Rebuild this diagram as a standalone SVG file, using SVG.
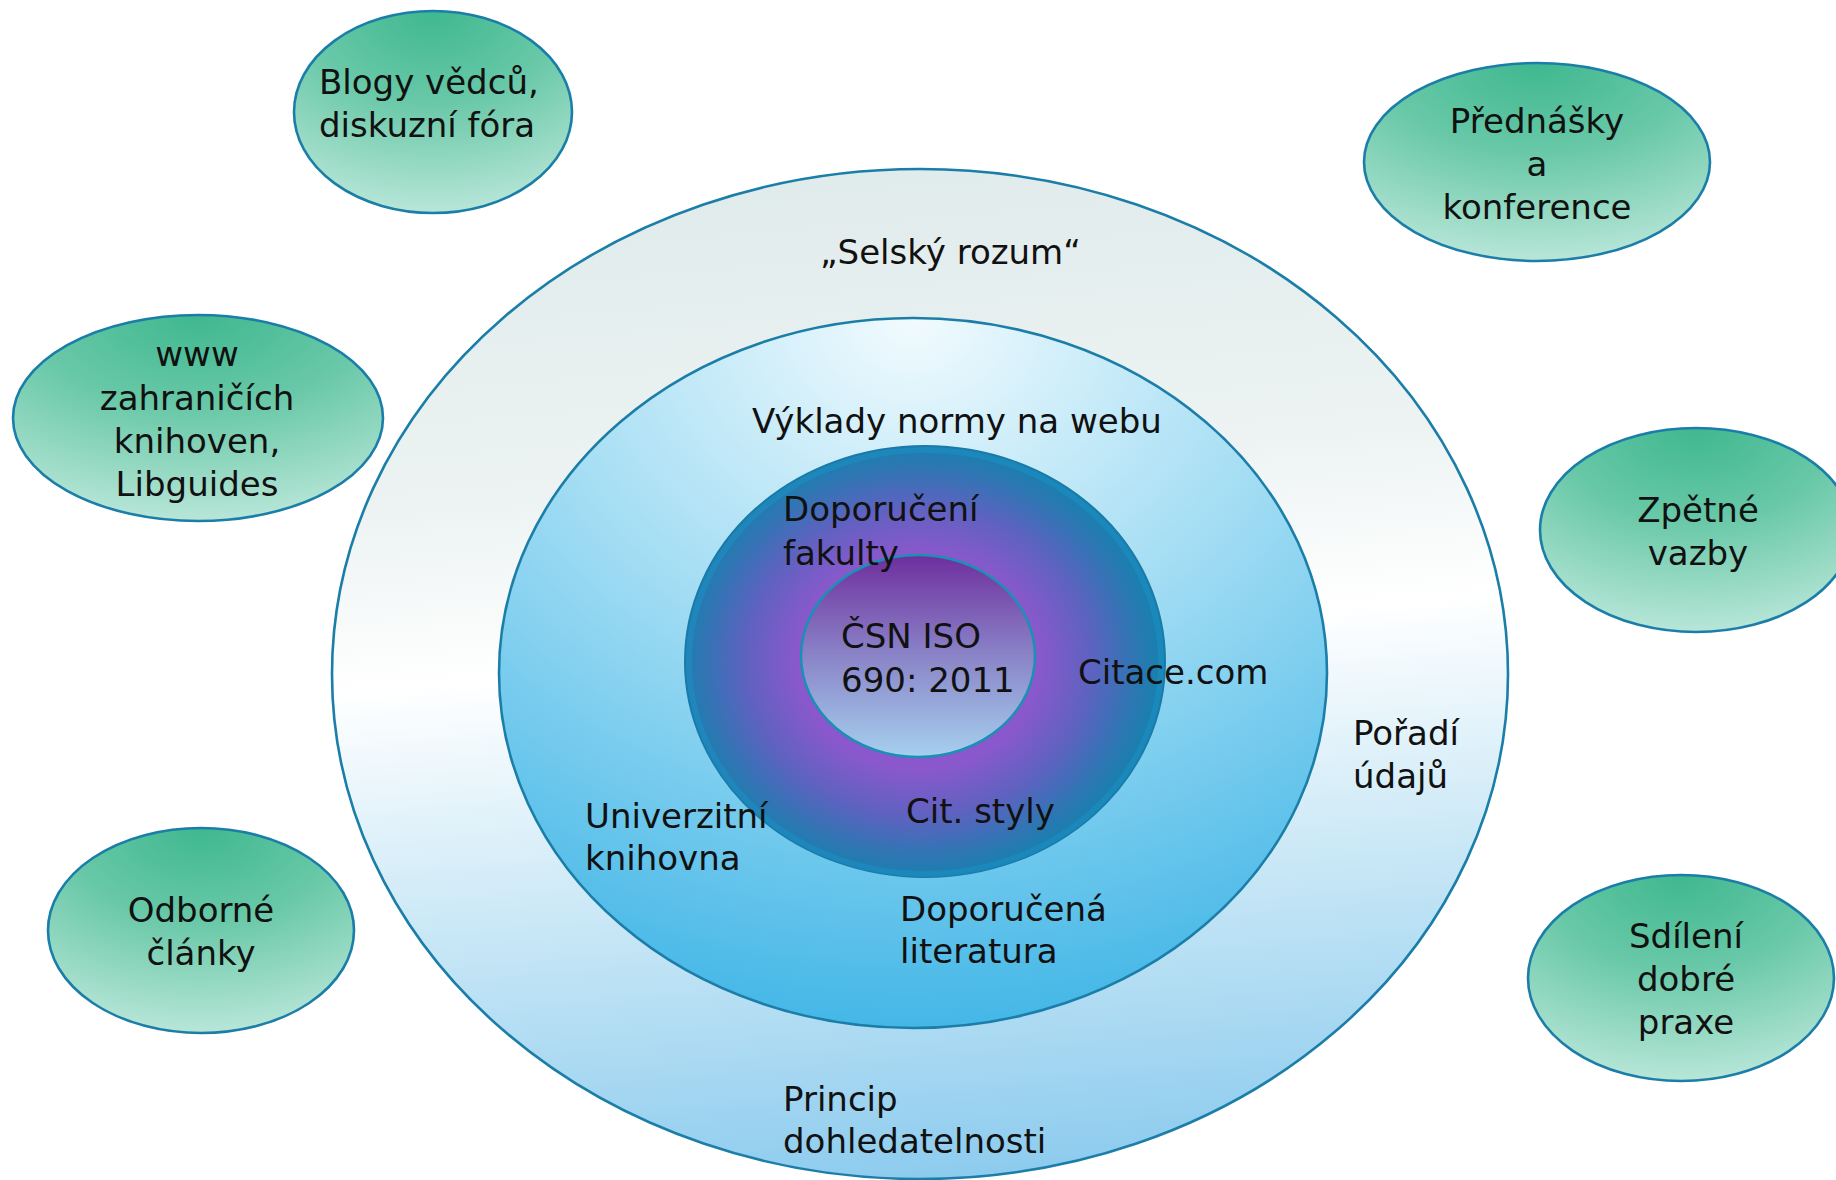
<svg xmlns="http://www.w3.org/2000/svg" width="1836" height="1180" viewBox="0 0 1836 1180">
<defs>
<radialGradient id="gGreen" cx="0.5" cy="0" r="1" gradientUnits="objectBoundingBox">
<stop offset="0" stop-color="#3fb88f"/>
<stop offset="0.45" stop-color="#68c8a7"/>
<stop offset="1" stop-color="#b8e6d8"/>
</radialGradient>
<linearGradient id="gOuter" x1="0.45" y1="0" x2="0.55" y2="1">
<stop offset="0" stop-color="#e0ebeb"/>
<stop offset="0.3" stop-color="#edf3f3"/>
<stop offset="0.47" stop-color="#ffffff"/>
<stop offset="0.72" stop-color="#c8e7f6"/>
<stop offset="1" stop-color="#8ccbee"/>
</linearGradient>
<radialGradient id="gMiddle" cx="0.5" cy="0" r="1" gradientUnits="objectBoundingBox">
<stop offset="0" stop-color="#f2fbfe"/>
<stop offset="0.45" stop-color="#a6def4"/>
<stop offset="1" stop-color="#44b7e7"/>
</radialGradient>
<radialGradient id="gRing" cx="0.485" cy="0.5" r="0.5" gradientUnits="objectBoundingBox">
<stop offset="0" stop-color="#8c58cc"/>
<stop offset="0.5" stop-color="#8a58cc"/>
<stop offset="0.72" stop-color="#5e62c0"/>
<stop offset="0.92" stop-color="#2a78b2"/>
<stop offset="1" stop-color="#1a7fae"/>
</radialGradient>
<linearGradient id="gCore" x1="0" y1="0" x2="0" y2="1">
<stop offset="0" stop-color="#6e2e9e"/>
<stop offset="0.5" stop-color="#8a84c8"/>
<stop offset="1" stop-color="#a6d0ee"/>
</linearGradient>
<style>
.edge{stroke:#1b7ea8;stroke-width:2.6}
.t{font-family:"DejaVu Sans","Liberation Sans",sans-serif;font-size:34px;fill:#111}
.c{text-anchor:middle}
</style>
</defs>
<rect width="1836" height="1180" fill="#ffffff"/>
<g id="node-outer"><ellipse class="edge" cx="920" cy="674" rx="588" ry="505" fill="url(#gOuter)"/></g>
<g id="node-middle"><ellipse class="edge" cx="913" cy="673" rx="414" ry="355" fill="url(#gMiddle)"/></g>
<g id="node-ring">
<ellipse cx="925" cy="661.5" rx="240" ry="215.5" fill="url(#gRing)" stroke="#1a7aa8" stroke-width="2"/>
<ellipse cx="925" cy="662" rx="236" ry="212" fill="none" stroke="#1aa0d6" stroke-width="6" stroke-opacity="0.3"/>
</g>
<g id="node-core"><ellipse cx="918" cy="656" rx="117" ry="101" fill="url(#gCore)" stroke="#1c8fb4" stroke-width="2.6"/></g>
<g id="node-blogy"><ellipse class="edge" cx="433" cy="112" rx="139" ry="101" fill="url(#gGreen)"/></g>
<g id="node-www"><ellipse class="edge" cx="198" cy="418" rx="185" ry="103" fill="url(#gGreen)"/></g>
<g id="node-odborne"><ellipse class="edge" cx="201" cy="930.5" rx="153" ry="102.5" fill="url(#gGreen)"/></g>
<g id="node-prednasky"><ellipse class="edge" cx="1537" cy="162" rx="173" ry="99" fill="url(#gGreen)"/></g>
<g id="node-zpetne"><ellipse class="edge" cx="1696" cy="530" rx="156" ry="102" fill="url(#gGreen)"/></g>
<g id="node-sdileni"><ellipse class="edge" cx="1681" cy="978" rx="153" ry="103" fill="url(#gGreen)"/></g>
<g id="connectors"/>
<g id="labels">
<g id="label-blogy"><text class="t" x="319" y="94">Blogy vědců,</text><text class="t" x="319" y="137">diskuzní fóra</text></g>
<g id="label-www"><text class="t c" x="197" y="366">www</text><text class="t c" x="197" y="409.5">zahraničích</text><text class="t c" x="197" y="453">knihoven,</text><text class="t c" x="197" y="496">Libguides</text></g>
<g id="label-odborne"><text class="t c" x="201" y="922">Odborné</text><text class="t c" x="201" y="965">články</text></g>
<g id="label-prednasky"><text class="t c" x="1537" y="132.5">Přednášky</text><text class="t c" x="1537" y="176">a</text><text class="t c" x="1537" y="219">konference</text></g>
<g id="label-zpetne"><text class="t c" x="1698" y="522">Zpětné</text><text class="t c" x="1698" y="565">vazby</text></g>
<g id="label-sdileni"><text class="t c" x="1686" y="947.5">Sdílení</text><text class="t c" x="1686" y="991">dobré</text><text class="t c" x="1686" y="1034">praxe</text></g>
<g id="label-outer">
<text class="t" x="820" y="263.5">„Selský rozum“</text>
<text class="t" x="1353" y="745">Pořadí</text><text class="t" x="1353" y="788">údajů</text>
<text class="t" x="783" y="1110.5">Princip</text><text class="t" x="783" y="1153">dohledatelnosti</text>
</g>
<g id="label-middle">
<text class="t" x="752" y="433">Výklady normy na webu</text>
<text class="t" x="585" y="828">Univerzitní</text><text class="t" x="585" y="870">knihovna</text>
<text class="t" x="900" y="921">Doporučená</text><text class="t" x="900" y="963">literatura</text>
</g>
<g id="label-ring">
<text class="t" x="783" y="521">Doporučení</text><text class="t" x="783" y="564.5">fakulty</text>
<text class="t" x="1078" y="684">Citace.com</text>
<text class="t" x="906" y="823">Cit. styly</text>
</g>
<g id="label-core"><text class="t" x="841" y="648">ČSN ISO</text><text class="t" x="841" y="691.5">690: 2011</text></g>
</g>
</svg>
